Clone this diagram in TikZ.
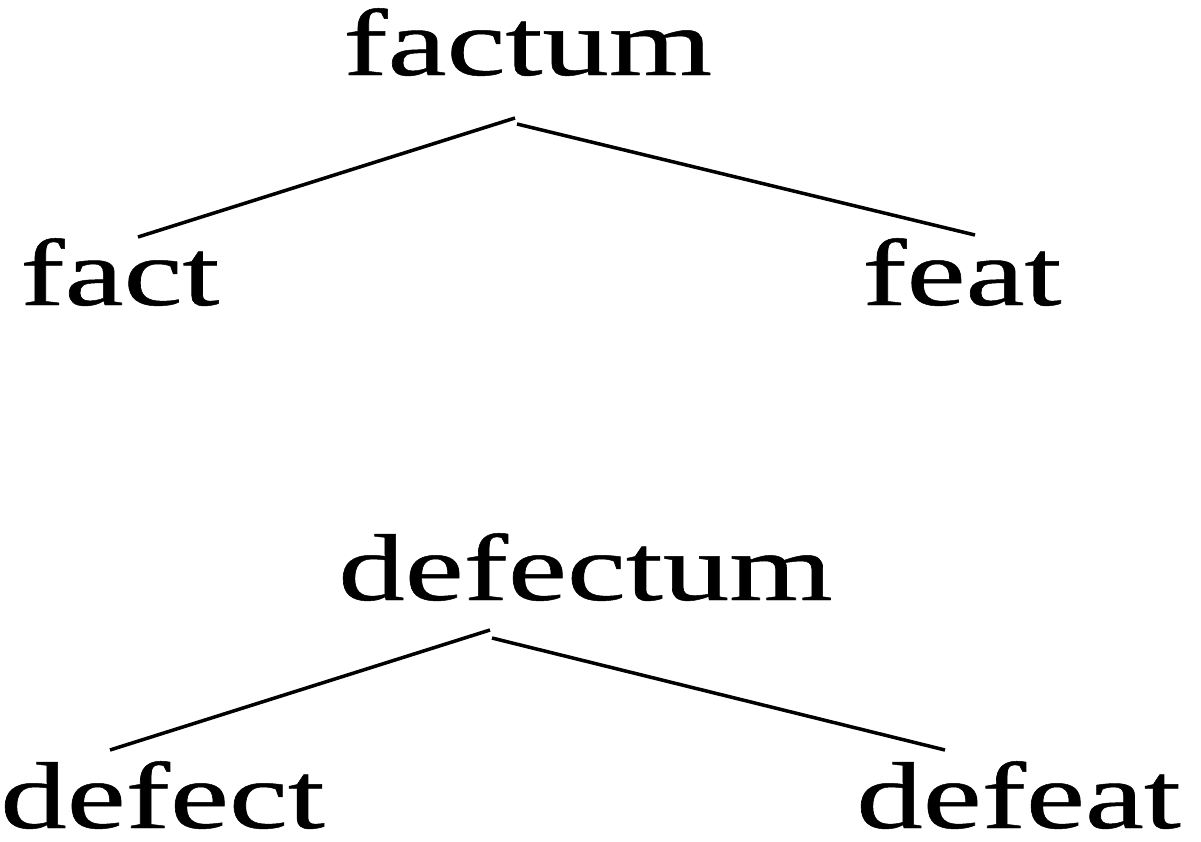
\documentclass[tikz,border=0pt]{standalone}
\usepackage{fontspec}
\setmainfont{Liberation Serif}
\newfontfamily\thickserif[FakeBold=0.5]{Liberation Serif}
\tikzset{
  word/.style={anchor=base west, inner sep=0pt, text depth=0pt, font=\thickserif\fontsize{54}{54}\selectfont},
  branch/.style={line width=2pt, black}
}
\newcommand{\wideword}[1]{\scalebox{1.4}[1]{#1}}
\begin{document}
\begin{tikzpicture}[x=0.02cm,y=-0.02cm]
\useasboundingbox (0,0) rectangle (1201,842);
\node[word] (factum) at (343,75) {\wideword{factum}};
\node[word] (fact) at (20,305) {\wideword{fact}};
\node[word] (feat) at (862,305) {\wideword{feat}};
\node[word] (defectum) at (338,600) {\wideword{defectum}};
\node[word] (defect) at (0,828) {\wideword{defect}};
\node[word] (defeat) at (856,828) {\wideword{defeat}};
\coordinate (t1) at (515,118);
\coordinate (t2) at (517,124);
\coordinate (a1) at (138,237);
\coordinate (b1) at (975,235);
\coordinate (t3) at (490,630);
\coordinate (t4) at (492,638);
\coordinate (a2) at (110,750);
\coordinate (b2) at (945,750);
\draw[branch] (t1) -- (a1);
\draw[branch] (t2) -- (b1);
\draw[branch] (t3) -- (a2);
\draw[branch] (t4) -- (b2);
\end{tikzpicture}
\end{document}
